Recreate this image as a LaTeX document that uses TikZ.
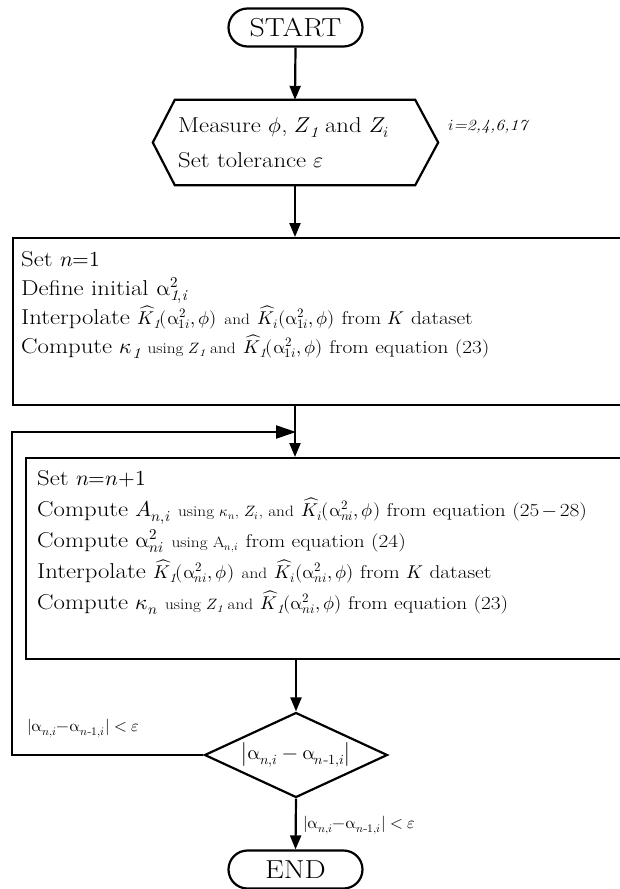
\documentclass[tikz,border=0pt]{standalone}
\usepackage{fontspec}
\usepackage{amsmath}
\usepackage{unicode-math}
\setmainfont{Latin Modern Roman}[FakeStretch=1.15]
\setmathfont{Latin Modern Math}
\usetikzlibrary{arrows.meta,shapes.geometric,calc}

\newcommand\ua{\upalpha}
\newcommand\szMain{\fontsize{21.5}{25}\selectfont}
\newcommand\szMid{\fontsize{18.5}{22}\selectfont}
\newcommand\szSm{\fontsize{15}{18}\selectfont}
\newcommand\szHex{\fontsize{21.5}{25}\selectfont}
\newcommand\szTerm{\fontsize{26}{30}\selectfont}
\newcommand\szLab{\fontsize{16.5}{19}\selectfont}
\newcommand\Kterm[2]{\widehat{K}_{#1}(\ua^{2}_{#2},\phi)}

\tikzset{
  ln/.style={line width=2.2pt},
  arr/.style={ln,-{Triangle[length=14pt,width=11pt]}},
  bigarr/.style={ln,-{Triangle[length=20pt,width=13pt]}},
  term/.style={draw,ln,rectangle,rounded corners=19pt,minimum width=134pt,minimum height=38pt,inner sep=0pt,font=\szTerm},
  blank/.style={rectangle,inner sep=0pt},
  stepbox/.style={draw,ln,rectangle,inner sep=0pt,anchor=north west},
  txt/.style={anchor=base west,inner sep=0pt,font=\szMain},
  htxt/.style={anchor=base west,inner sep=0pt,font=\szHex},
  dia/.style={draw,ln,diamond,minimum width=183pt,minimum height=85pt,aspect=2.15,inner sep=0pt,font=\fontsize{20}{24}\selectfont},
  lab/.style={anchor=base west,inner sep=0pt,font=\szLab}
}

\begin{document}
\begin{tikzpicture}[x=1pt,y=-1pt]
\useasboundingbox (0,0) rectangle (619,889);

% START
\node[term] (start) at (295.5,27.5) {START};

% input hexagon
\node[blank,minimum width=240pt,minimum height=85pt] (hex) at (295,142.5) {};
\draw[ln,line join=miter] (hex.north west) -- (hex.north east) -- ($(hex.east)+(23,0)$)
  -- (hex.south east) -- (hex.south west) -- ($(hex.west)+(-22,0)$) -- cycle;
\node[htxt] (h1) at (178,132) {Measure $\phi$, $Z_{\mathit{1}}$ and $Z_{i}$};
\node[htxt] (h2) at (178,167) {Set tolerance $\varepsilon$};
\node[anchor=base west,inner sep=0pt,font=\fontsize{15.5}{18}\selectfont\itshape] (hl) at (448,130) {$i$=2,4,6,17};

% box 1
\node[stepbox,minimum width=640pt,minimum height=167pt] (b1) at (12,237) {};
\node[txt] (b1a) at (21,266) {Set $n{=}1$};
\node[txt] (b1b) at (21,295) {Define initial $\ua^{2}_{\mathit{1,i}}$};
\node[txt] (b1c) at (21,324) {Interpolate {\szMid$\Kterm{\mathit{1}}{1i}$} {\szSm and} {\szMid$\Kterm{i}{1i}$ from $K$ dataset}};
\node[txt] (b1d) at (21,353) {Compute $\kappa_{\mathit{1}}$ {\szSm using $Z_{\mathit{1}}$ and} {\szMid$\Kterm{\mathit{1}}{1i}$ from equation (23)}};

% box 2
\node[stepbox,minimum width=640pt,minimum height=201pt] (b2) at (25,457) {};
\node[txt] (b2a) at (37,485) {Set $n{=}n{+}1$};
\node[txt] (b2b) at (37,516) {Compute $A_{n,i}$ {\szSm using $\kappa_{n}$, $Z_{i}$, and} {\szMid$\Kterm{i}{ni}$ from equation (25$\,-\,$28)}};
\node[txt] (b2c) at (37,547) {Compute $\ua^{2}_{ni}$ {\szSm using A$_{n,i}$} {\szMid from equation (24)}};
\node[txt] (b2d) at (37,578) {Interpolate {\szMid$\Kterm{\mathit{1}}{ni}$} {\szSm and} {\szMid$\Kterm{i}{ni}$ from $K$ dataset}};
\node[txt] (b2e) at (37,609) {Compute $\kappa_{n}$ {\szSm using $Z_{\mathit{1}}$ and} {\szMid$\Kterm{\mathit{1}}{ni}$ from equation (23)}};

% decision
\node[dia] (dec) at (296,755) {$\left|\ua_{n,i}-\ua_{n\text{-}1,i}\right|$};

% END
\node[term] (end) at (295.5,869.5) {END};

% loop coordinates
\coordinate (lc) at (12,755);
\coordinate (jn) at (296,432);

% connectors
\draw[arr] (start.south) -- (hex.north);
\draw[arr] (hex.south) -- (b1.north -| hex.south);
\draw[arr] (b1.south -| hex.south) -- (b2.north -| hex.south);
\draw[bigarr] (dec.west) -- (lc) |- (jn);
\draw[arr] (b2.south -| dec.north) -- (dec.north);
\draw[arr] (dec.south) -- (end.north);

% condition labels
\node[lab] (l1) at (27,731) {$|\ua_{n,i}{-}\ua_{n\text{-}1,i}|<\varepsilon$};
\node[lab] (l2) at (303,828) {$|\ua_{n,i}{-}\ua_{n\text{-}1,i}|<\varepsilon$};
\end{tikzpicture}
\end{document}
